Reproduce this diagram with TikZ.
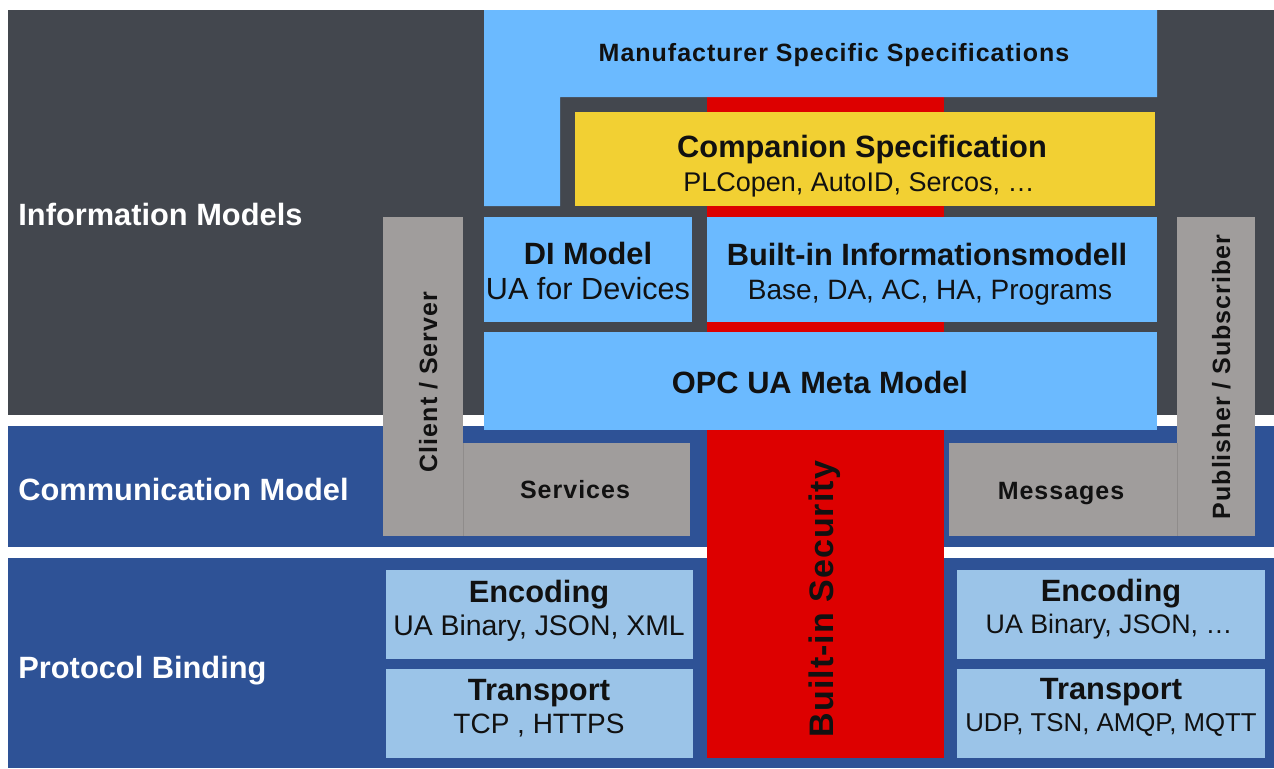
\documentclass[tikz,border=0pt]{standalone}
\usepackage{fontspec}
\setmainfont{Liberation Sans}
\newfontfamily\spacedfont[LetterSpace=4]{Liberation Sans}
\newfontfamily\secfont[LetterSpace=3]{Liberation Sans}
\definecolor{darkpanel}{HTML}{43474E}
\definecolor{bandblue}{HTML}{2E5296}
\definecolor{infoblue}{HTML}{6BBAFF}
\definecolor{compyellow}{HTML}{F2D033}
\definecolor{secred}{HTML}{DD0000}
\definecolor{greybox}{HTML}{A09D9C}
\definecolor{greyline}{HTML}{8F8C8B}
\definecolor{protoblue}{HTML}{9BC4E8}
\definecolor{txt}{HTML}{111111}
\begin{document}
\begin{tikzpicture}[x=0.5pt,y=-0.5pt,
  lbl/.style={text=white, font=\fontsize{15.4}{18}\selectfont\bfseries, anchor=base west, inner sep=0},
  hd/.style={text=txt, font=\fontsize{15.4}{18}\selectfont\bfseries, anchor=base, inner sep=0},
  sub/.style={text=txt, anchor=base, inner sep=0},
  gl/.style={text=txt, font=\spacedfont\fontsize{12.5}{15}\selectfont\bfseries, anchor=base, inner sep=0}]
\useasboundingbox (0,0) rectangle (1274,768);
\fill[white] (0,0) rectangle (1274,768);
% layer bands
\fill[darkpanel] (8,10) rectangle (1274,415);
\fill[bandblue] (8,426) rectangle (1274,547);
\fill[bandblue] (8,558) rectangle (1274,768);
% security column
\fill[secred] (707,97) rectangle (944,758);
% information model boxes
\fill[infoblue] (484,10) -- (1157,10) -- (1157,97) -- (560,97) -- (560,206) -- (484,206) -- cycle;
\fill[compyellow] (575,112) rectangle (1155,206);
\fill[infoblue] (484,217) rectangle (692,322);
\fill[infoblue] (707,217) rectangle (1157,322);
\fill[infoblue] (484,332) rectangle (1157,430);
% communication model boxes
\fill[greybox] (383,217) rectangle (463,536);
\fill[greybox] (463,443) rectangle (690,536);
\draw[greyline, line width=0.4pt] (463,443) -- (463,536);
\fill[greybox] (1177,217) rectangle (1255,536);
\fill[greybox] (949,443) rectangle (1177,536);
\draw[greyline, line width=0.4pt] (1177,443) -- (1177,536);
% protocol binding boxes
\fill[protoblue] (386,570) rectangle (693,659);
\fill[protoblue] (386,669) rectangle (693,758);
\fill[protoblue] (957,570) rectangle (1265,659);
\fill[protoblue] (957,669) rectangle (1265,758);
% layer labels
\node[lbl] (lim) at (18,225) {Information Models};
\node[lbl] (lcm) at (18,500) {Communication Model};
\node[lbl] (lpb) at (18,678) {Protocol Binding};
% texts
\node[gl] (mss) at (834,61) {Manufacturer Specific Specifications};
\node[hd] (cst) at (862,157) {Companion Specification};
\node[sub, font=\fontsize{13.5}{16}\selectfont] (css) at (859,191) {PLCopen, AutoID, Sercos, …};
\node[hd] (dit) at (588,264) {DI Model};
\node[sub, font=\fontsize{15.3}{18}\selectfont] (dis) at (588,299) {UA for Devices};
\node[hd] (bit) at (927,265) {Built-in Informationsmodell};
\node[sub, font=\fontsize{14}{17}\selectfont] (bis) at (930,299) {Base, DA, AC, HA, Programs};
\node[hd] (omm) at (820,393) {OPC UA Meta Model};
\node[gl, rotate=90] (cs) at (437,382) {Client / Server};
\node[gl, rotate=90] (ps) at (1230,377) {Publisher / Subscriber};
\node[gl] (srv) at (575,498) {Services};
\node[gl] (msg) at (1061,499) {Messages};
\node[text=txt, font=\secfont\fontsize{17}{20}\selectfont\bfseries, anchor=base, inner sep=0, rotate=90] (sec) at (833,599) {Built-in Security};
\node[hd] (enl) at (539,602) {Encoding};
\node[sub, font=\fontsize{14.2}{17}\selectfont] (enls) at (539,635) {UA Binary, JSON, XML};
\node[hd] (trl) at (539,700) {Transport};
\node[sub, font=\fontsize{14}{17}\selectfont] (trls) at (539,733) {TCP , HTTPS};
\node[hd] (enr) at (1111,601) {Encoding};
\node[sub, font=\fontsize{13.4}{16}\selectfont] (enrs) at (1109,633) {UA Binary, JSON, …};
\node[hd] (trr) at (1111,699) {Transport};
\node[sub, font=\fontsize{12.9}{15}\selectfont] (trrs) at (1111,731) {UDP, TSN, AMQP, MQTT};
\end{tikzpicture}
\end{document}
